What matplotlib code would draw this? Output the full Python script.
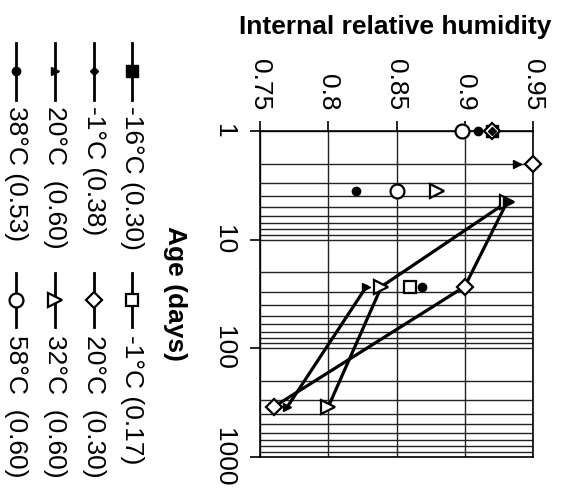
import matplotlib
matplotlib.use("Agg")
import matplotlib.pyplot as plt
import numpy as np
from matplotlib.ticker import LogLocator, NullFormatter

plt.rcParams["font.family"] = ["Liberation Sans", "DejaVu Sans"]

nan = np.nan

# age (days) and internal relative humidity per series; nan breaks the line
age_m16_030 = [1]
rh_m16_030 = [0.92]

age_m1_038 = [1]
rh_m1_038 = [0.92]

age_20_060 = [2, nan, 4.5, nan, 27, 346]
rh_20_060 = [0.938, nan, 0.931, nan, 0.828, 0.770]

age_38_053 = [1, nan, 3.6, nan, 27]
rh_38_053 = [0.910, nan, 0.820, nan, 0.869]

age_m1_017 = [27]
rh_m1_017 = [0.860]

age_20_030 = [1, nan, 2, nan, 4.5, 27, 346]
rh_20_030 = [0.920, nan, 0.950, nan, 0.931, 0.900, 0.760]
shown_20_030 = [0, 2, 5, 6]  # no symbol where the line starts at 4.5 d

age_32_060 = [3.6, nan, 4.5, 27, 346]
rh_32_060 = [0.880, nan, 0.931, 0.839, 0.800]

age_58_060 = [1, nan, 3.6]
rh_58_060 = [0.898, nan, 0.850]

rh_ticks = [0.75, 0.80, 0.85, 0.90, 0.95]
rh_labels = ["0.75", "0.8", "0.85", "0.9", "0.95"]
age_ticks = [1, 10, 100, 1000]
age_labels = ["1", "10", "100", "1000"]

legend_col1 = ["-16°C (0.30)", "-1°C (0.38)", "20°C  (0.60)", "38°C (0.53)"]
legend_col2 = ["-1°C (0.17)", "20°C  (0.30)", "32°C  (0.60)", "58°C  (0.60)"]

FILLED_SQ = dict(marker="s", ms=8, mfc="black", mec="black")
FILLED_DM = dict(marker="D", ms=4.5, mfc="black", mec="black")
FILLED_TR = dict(marker=">", ms=5.5, mfc="black", mec="black")
FILLED_CI = dict(marker="o", ms=6, mfc="black", mec="black")
OPEN_SQ = dict(marker="s", ms=9, mfc="white", mec="black", mew=1.6)
OPEN_DM = dict(marker="D", ms=8, mfc="white", mec="black", mew=1.6)
OPEN_TR = dict(marker=">", ms=10, mfc="white", mec="black", mew=1.6)
OPEN_CI = dict(marker="o", ms=10, mfc="white", mec="black", mew=1.6)

W, H = 566, 494
fig = plt.figure(figsize=(W / 100, H / 100), dpi=100)
ax = fig.add_axes([260 / W, 37 / H, 273 / W, 326 / H])

LW = 2.3
common = dict(color="black", lw=LW, clip_on=False)
ax.plot(rh_m16_030, age_m16_030, zorder=3, **common, **FILLED_SQ)
ax.plot(rh_20_030, age_20_030, zorder=4, markevery=shown_20_030, **common, **OPEN_DM)
ax.plot(rh_m1_038, age_m1_038, zorder=5, **common, **FILLED_DM)
ax.plot(rh_m1_017, age_m1_017, zorder=4, **common, **OPEN_SQ)
ax.plot(rh_32_060, age_32_060, zorder=4, **common, **OPEN_TR)
ax.plot(rh_20_060, age_20_060, zorder=5, **common, **FILLED_TR)
ax.plot(rh_58_060, age_58_060, zorder=4, **common, **OPEN_CI)
ax.plot(rh_38_053, age_38_053, zorder=5, **common, **FILLED_CI)

ax.set_xlim(0.75, 0.95)
ax.set_yscale("log")
ax.set_ylim(1000, 1)

ax.xaxis.tick_top()
ax.set_xticks(rh_ticks)
ax.set_xticklabels(rh_labels)
ax.tick_params(axis="x", which="major", top=True, bottom=False, labeltop=True,
               labelbottom=False, labelrotation=-90, length=7, width=1.2,
               labelsize=19, pad=8)

ax.set_yticks(age_ticks)
ax.set_yticklabels(age_labels)
ax.yaxis.set_minor_locator(LogLocator(base=10, subs=np.arange(2, 10)))
ax.yaxis.set_minor_formatter(NullFormatter())
ax.tick_params(axis="y", which="minor", length=0)
ax.tick_params(axis="y", which="major", labelrotation=-90, length=7, width=1.2,
               labelsize=19, pad=10)
for lbl in ax.get_yticklabels():
    lbl.set_va("center")

ax.grid(True, which="both", axis="y", color="#222222", lw=1.0)
ax.grid(True, which="major", axis="x", color="#222222", lw=1.0)
for sp in ax.spines.values():
    sp.set_linewidth(1.2)
    sp.set_color("black")

fig.text(395 / W, 1 - 27 / H, "Internal relative humidity", ha="center",
         va="center", fontsize=19, fontweight="bold")
fig.text(175 / W, 1 - 293 / H, "Age (days)", rotation=-90, ha="center",
         va="center", fontsize=19, fontweight="bold")

# legend, drawn by hand because the whole chart is turned a quarter turn
lax = fig.add_axes([0, 0, 1, 1])
lax.set_xlim(0, W)
lax.set_ylim(H, 0)
lax.axis("off")

col_x = [132, 94, 55, 16]
styles1 = [FILLED_SQ, FILLED_DM, FILLED_TR, FILLED_CI]
styles2 = [OPEN_SQ, OPEN_DM, OPEN_TR, OPEN_CI]
for x, lab, st in zip(col_x, legend_col1, styles1):
    lax.plot([x, x], [43, 100], color="black", lw=2)
    lax.plot([x], [71], ls="none", **st)
    lax.text(x, 106, lab, rotation=-90, ha="center", va="top", fontsize=19)
for x, lab, st in zip(col_x, legend_col2, styles2):
    lax.plot([x, x], [273, 327], color="black", lw=2)
    lax.plot([x], [300], ls="none", **st)
    lax.text(x, 335, lab, rotation=-90, ha="center", va="top", fontsize=19)

fig.savefig("out.png", dpi=100)
